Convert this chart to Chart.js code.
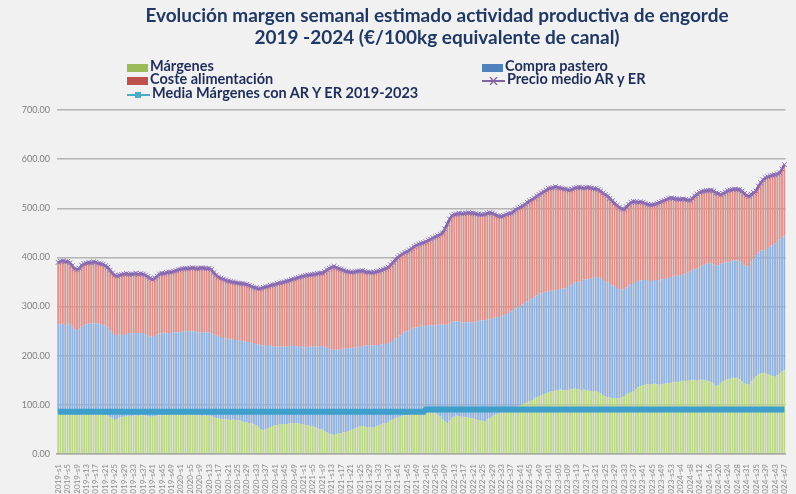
<!DOCTYPE html>
<html lang="es">
<head>
<meta charset="utf-8">
<title>Margen semanal engorde 2019-2024</title>
<script src="https://cdn.jsdelivr.net/npm/chart.js@4.4.1/dist/chart.umd.min.js"></script>
<style>
  body { margin: 0; background: #f1f1f1; overflow: hidden; }
  #marco { position: relative; width: 796px; height: 494px; }
  #grafico { position: absolute; left: 0; top: 0; }
  .titulo { position: absolute; left: 97px; width: 680px; top: 4px; text-align: center;
            font: bold 19px Lato, sans-serif; line-height: 22px; color: #1f3864; }
  .item { position: absolute; font: bold 14.5px Lato, sans-serif; color: #1f2d5a;
          line-height: 14px; white-space: nowrap; }
  .item svg { vertical-align: -1px; margin-right: 2px; }
</style>
</head>
<body>
<div id="marco">
  <canvas id="grafico" width="796" height="494"></canvas>
  <div class="titulo">Evolución margen semanal estimado actividad productiva de engorde<br>2019 -2024 (€/100kg equivalente de canal)</div>
  <div class="item" style="left:127px;top:59px"><svg width="21" height="8"><rect width="21" height="8" fill="#9bbb59"/></svg>Márgenes</div>
  <div class="item" style="left:127px;top:72px"><svg width="21" height="8"><rect width="21" height="8" fill="#c0504d"/></svg>Coste alimentación</div>
  <div class="item" style="left:127px;top:86px"><svg width="23" height="8"><line x1="0" y1="4" x2="23" y2="4" stroke="#4bacc6" stroke-width="2"/><rect x="8" y="1" width="6" height="6" fill="#4bacc6"/></svg>Media Márgenes con AR Y ER 2019-2023</div>
  <div class="item" style="left:482px;top:59px"><svg width="21" height="8"><rect width="21" height="8" fill="#4f81bd"/></svg>Compra pastero</div>
  <div class="item" style="left:482px;top:72px"><svg width="23" height="8"><line x1="0" y1="4" x2="23" y2="4" stroke="#8064a2" stroke-width="2"/><path d="M8 0 L15 8 M15 0 L8 8" stroke="#8064a2" stroke-width="1.3"/></svg>Precio medio AR y ER</div>
</div>
<script>
// semanas del eje x
const anios = [2019, 2020, 2021, 2022, 2023];
const semanasPorAnio = [52, 52, 52, 52, 53];
const semanas2024 = [1,2,3,4,5,6,7,8,9,10,11,12,13,14,15,16,17,18,19,20,21,22,23,24,25,26,27,28,29,29,30,31,32,33,34,35,36,37,38,39,40,41,42,43,44,45,46,47];

// €/100kg canal
const margenes = [
  82,84,83,81,83,84,82,80,79,80,81,82,82,83,84,83,83,82,81,80,80,78,75,72,69,71,74,75,76,77,78,77,78,79,78,79,79,78,77,76,76,77,78,79,79,80,79,80,80,81,80,80,
  80,81,80,80,80,79,80,79,79,78,79,78,78,77,75,73,72,71,70,70,70,69,70,69,69,68,66,65,64,63,62,60,58,55,50,49,50,53,55,57,58,59,60,61,60,61,62,63,63,62,62,61,
  60,59,58,57,56,54,52,51,50,47,44,41,40,39,40,41,42,44,45,47,48,50,52,54,56,57,56,55,55,54,55,57,58,60,62,63,65,68,71,73,74,76,78,79,79,80,82,83,83,84,85,84,
  84,85,84,83,83,80,76,70,66,63,68,74,76,78,77,76,76,75,74,73,73,71,69,68,67,66,70,73,76,79,82,83,84,86,88,90,92,94,96,97,98,101,104,106,108,110,113,116,118,120,122,124,
  125,127,128,129,130,131,130,129,130,131,132,133,132,131,130,131,130,129,128,128,128,126,123,120,118,116,115,114,114,113,114,116,118,121,124,126,128,132,136,138,140,141,142,141,142,143,142,141,142,143,144,144,145,
  146,147,146,148,149,148,149,150,151,150,149,150,151,150,149,148,146,143,138,140,145,148,150,152,153,155,154,155,152,148,144,142,141,148,153,158,162,165,164,165,163,160,158,157,160,164,168,171
];
const compraPastero = [
  181,180,182,181,182,180,177,174,173,175,178,180,182,183,182,183,183,184,183,182,182,180,177,174,173,171,169,167,166,167,168,168,168,167,168,167,167,166,165,163,162,163,165,166,166,167,166,166,166,167,167,168,
  168,169,170,170,170,171,170,169,169,170,169,169,169,169,168,168,168,167,166,165,165,164,164,163,163,163,164,164,164,165,165,166,166,168,171,172,172,169,165,162,160,159,158,158,158,157,158,157,157,157,158,157,
  157,158,160,161,162,165,167,169,170,171,172,172,172,173,172,171,171,170,169,168,167,166,164,163,162,163,165,166,167,167,166,165,164,163,162,161,161,160,161,162,162,165,168,170,171,172,173,174,175,175,176,176,
  176,177,178,179,179,183,188,193,197,200,197,195,194,192,192,192,192,193,194,195,195,198,201,204,205,206,203,201,199,198,197,196,196,196,197,197,198,199,200,201,202,203,204,205,206,206,207,207,208,207,206,206,
  205,205,204,204,204,205,207,208,210,212,214,216,218,220,222,224,225,227,229,231,232,234,235,234,234,233,231,229,228,225,222,219,217,218,219,220,220,218,216,215,214,213,212,211,210,211,212,212,213,213,214,214,215,
  215,216,215,216,217,219,220,222,224,226,228,230,232,235,238,240,242,243,245,244,242,240,239,238,238,239,240,239,240,241,240,240,240,242,245,247,248,249,250,250,256,262,267,271,272,273,274,274
];
const precioMedio = [
  390,392,393,391,392,389,383,377,375,378,384,387,388,390,389,391,390,388,387,386,383,380,374,368,364,362,364,365,366,367,365,366,366,368,365,367,366,364,361,358,355,358,362,366,368,367,369,370,370,372,373,375,
  376,377,378,377,378,379,378,377,378,379,378,377,378,375,369,364,360,358,356,354,352,351,350,349,348,347,347,346,345,343,341,339,338,336,337,339,340,341,343,344,345,347,348,349,350,352,353,355,356,358,359,361,
  362,363,364,365,365,366,367,368,368,371,375,378,380,382,379,377,376,374,372,371,370,370,371,372,372,373,371,370,370,369,370,371,372,374,376,378,380,385,390,395,400,404,407,410,412,415,418,422,425,427,429,430,
  432,435,437,440,442,444,447,450,458,468,478,485,487,488,490,489,489,490,491,490,490,489,488,487,487,488,490,491,490,488,485,484,483,485,487,489,490,493,497,500,502,505,508,512,515,518,521,525,528,531,534,537,
  540,541,542,544,542,541,540,539,538,537,539,541,542,543,542,541,542,543,541,540,540,538,535,531,528,525,520,515,510,506,502,499,498,503,508,512,514,513,512,513,512,510,508,507,507,508,510,512,514,516,518,520,521,
  520,519,518,518,519,518,517,516,520,525,529,532,534,535,536,536,537,535,531,530,527,530,533,536,537,538,539,538,538,535,530,526,524,528,532,535,545,552,558,562,564,566,567,568,570,572,580,589
];
// media de margenes 2019-2023 (dos tramos)
const mediaMargenes = [
  { x: '2019-s1', y: 86 }, { x: '2021-s52', y: 86 },
  { x: '2022-s01', y: 90.7 }, { x: '2024-s47', y: 90.7 }
];

const etiquetas = [];
anios.forEach((anio, k) => {
  for (let s = 1; s <= semanasPorAnio[k]; s++) {
    const sem = (anio === 2022 || anio === 2023) ? String(s).padStart(2, '0') : s;
    etiquetas.push(anio + '-s' + sem);
  }
});
semanas2024.forEach(s => etiquetas.push('2024-s' + s));

// el precio es la suma de la pila: el coste de alimentacion es lo que queda
const costeAlimentacion = precioMedio.map((p, i) => p - margenes[i] - compraPastero[i]);

const ctx = document.getElementById('grafico').getContext('2d');

new Chart(ctx, {
  type: 'bar',
  data: {
    labels: etiquetas,
    datasets: [
      { label: 'Márgenes', data: margenes, backgroundColor: '#bcd78a', stack: 'pila',
        categoryPercentage: 0.78, barPercentage: 1 },
      { label: 'Compra pastero', data: compraPastero, backgroundColor: '#90b0de', stack: 'pila',
        categoryPercentage: 0.78, barPercentage: 1 },
      { label: 'Coste alimentación', data: costeAlimentacion, backgroundColor: '#de8f89', stack: 'pila',
        categoryPercentage: 0.78, barPercentage: 1 },
      { type: 'line', label: 'Precio medio AR y ER', data: precioMedio, stack: 'precio', order: -1,
        borderColor: '#7b5ba6', borderWidth: 2.5, pointStyle: 'crossRot', pointRadius: 3.5,
        pointBorderColor: '#8e70b8', pointBorderWidth: 1, tension: 0 },
      { type: 'line', label: 'Media Márgenes con AR Y ER 2019-2023', data: mediaMargenes, stack: 'media', order: -2,
        borderColor: '#3d9fca', borderWidth: 6, pointRadius: 0, tension: 0 }
    ]
  },
  options: {
    responsive: false,
    animation: false,
    layout: { padding: { top: 110, right: 3, left: 0, bottom: 0 } },
    plugins: { legend: { display: false }, title: { display: false }, tooltip: { enabled: false } },
    scales: {
      x: {
        stacked: true,
        grid: { display: false },
        border: { display: true, color: '#a6a6a6', width: 1.5 },
        ticks: {
          autoSkip: false, maxRotation: 90, minRotation: 90, padding: 2,
          color: '#8c8c8c', font: { family: 'Lato', size: 8 },
          callback: (v, i) => i % 4 === 0 ? etiquetas[i] : ''
        },
        afterFit: scale => { scale.height = 40; }
      },
      y: {
        stacked: true,
        min: 0, max: 700,
        z: 1,
        grid: { color: 'rgba(120,120,120,0.5)', lineWidth: 1.5, drawTicks: false },
        border: { display: false },
        ticks: {
          stepSize: 100, padding: 7,
          color: '#7f7f7f', font: { family: 'Lato', size: 9 },
          callback: v => v.toFixed(2)
        },
        afterFit: scale => { scale.width = 57; }
      }
    }
  }
});
</script>
</body>
</html>
